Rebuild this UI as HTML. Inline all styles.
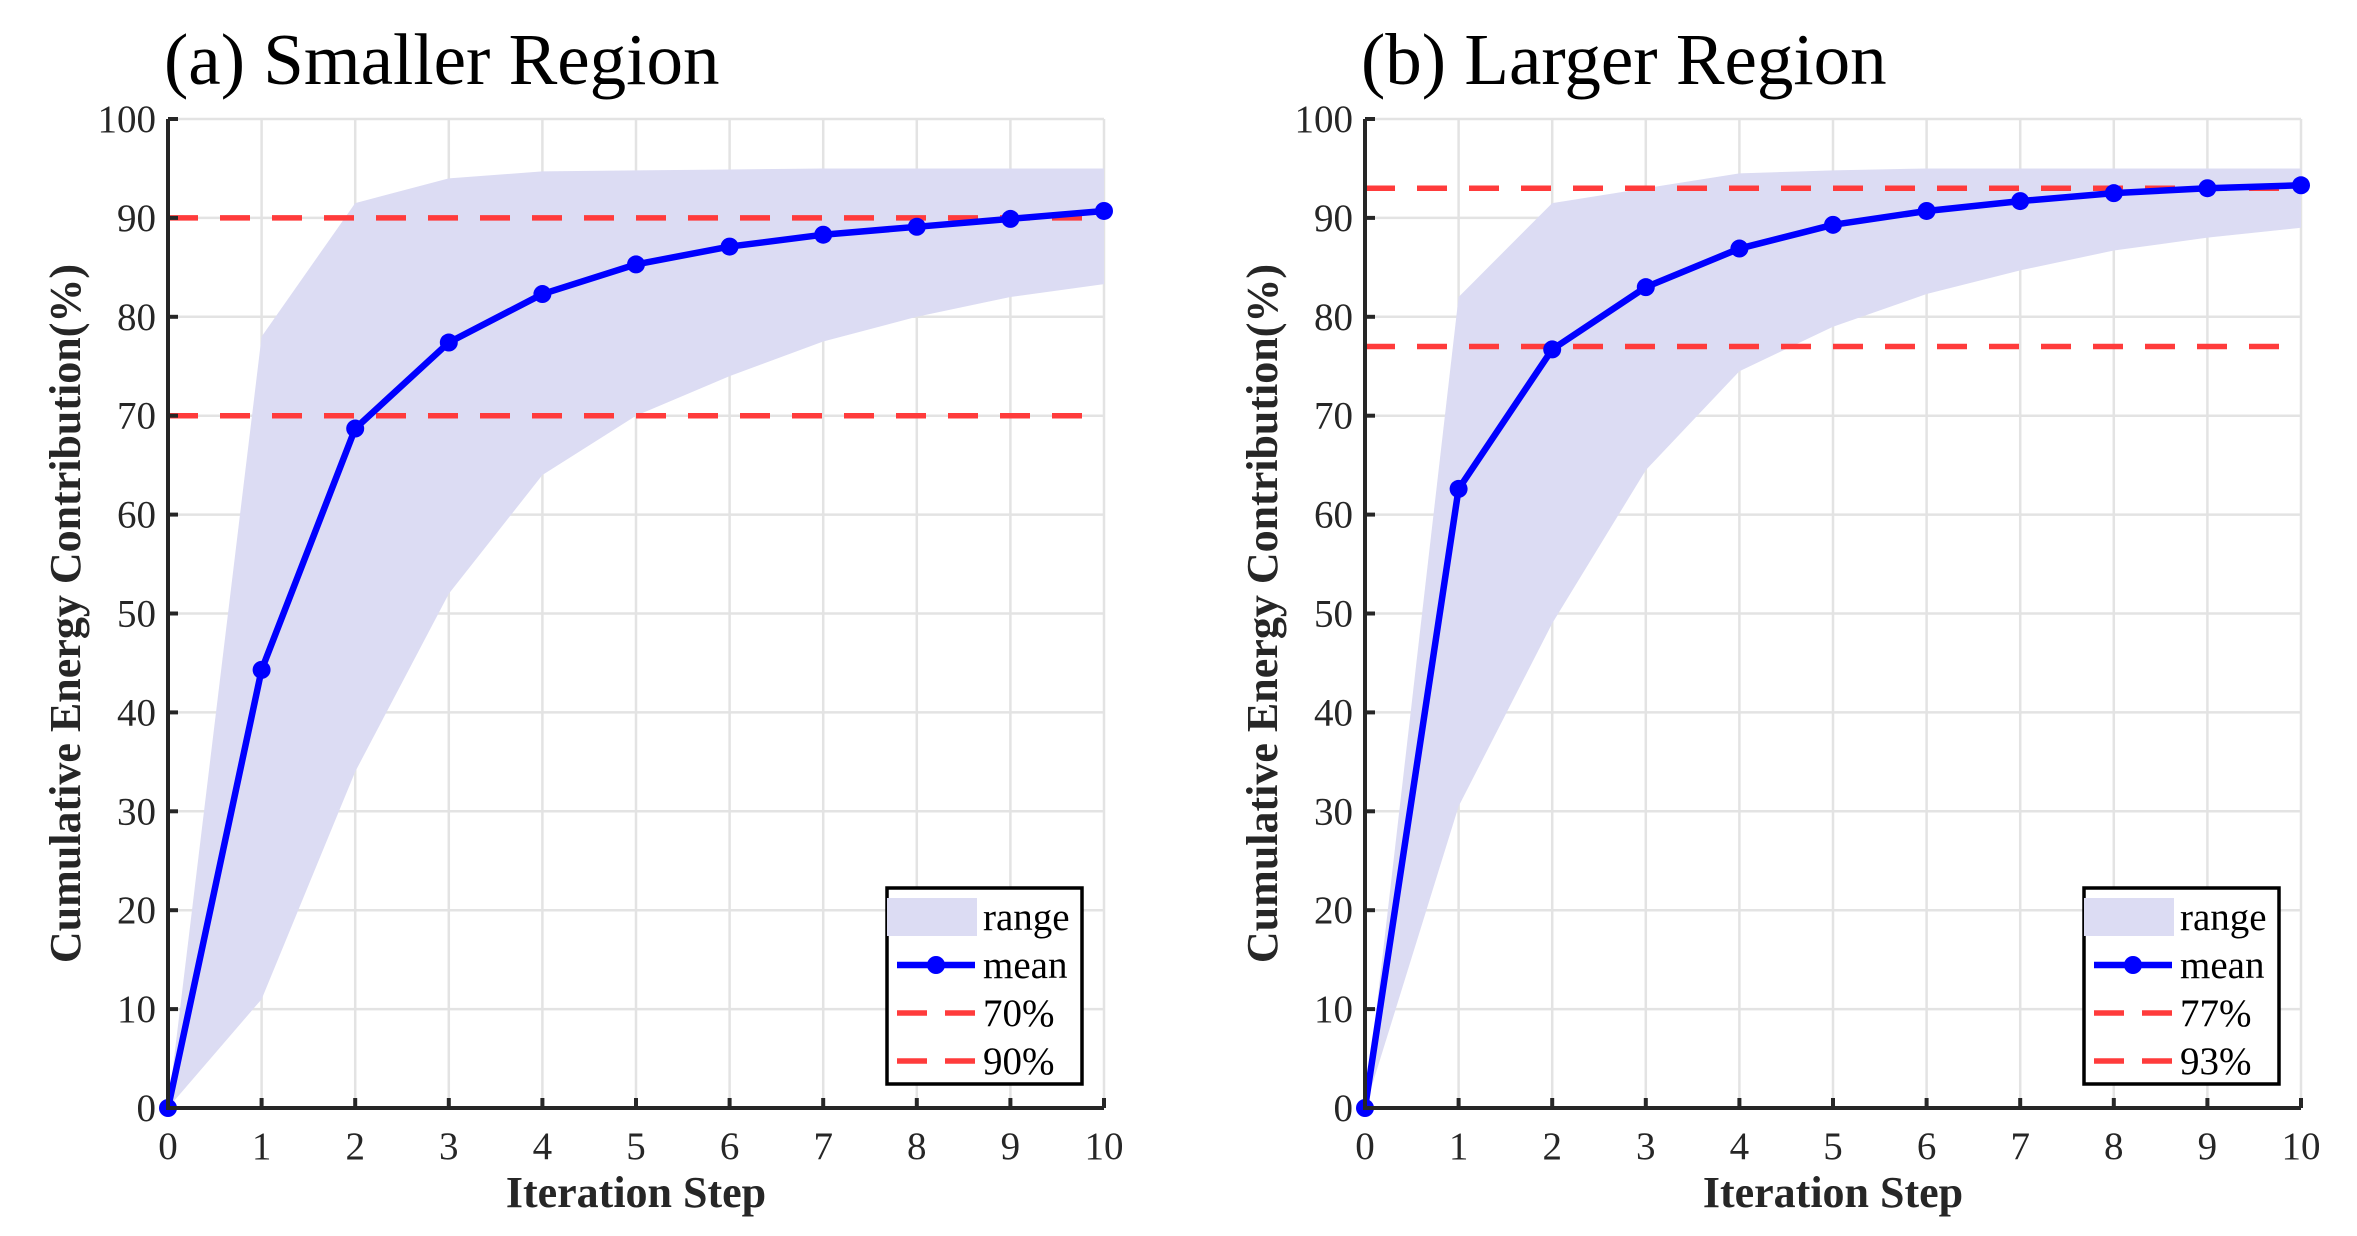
<!DOCTYPE html>
<html><head><meta charset="utf-8"><style>
html,body{margin:0;padding:0;background:#fff;}
svg{display:block;font-family:"Liberation Serif",serif;}
</style></head><body>
<svg id="chart" width="2357" height="1236" viewBox="0 0 2357 1236" xmlns="http://www.w3.org/2000/svg"></svg>
<script>
const steps = [0,1,2,3,4,5,6,7,8,9,10];
const yTicks = [0,10,20,30,40,50,60,70,80,90,100];
const meanA = [0,44.3,68.7,77.4,82.3,85.3,87.1,88.3,89.1,89.9,90.7];
const upperA = [0,78,91.5,94,94.7,94.8,94.9,95,95,95,95];
const lowerA = [0,11,34,52,64,70,74,77.5,80,82,83.3];
const threshA = [70,90];
const meanB = [0,62.6,76.7,83,86.9,89.3,90.7,91.7,92.5,93,93.3];
const upperB = [0,82,91.5,93,94.5,94.8,95,95,95,95,95];
const lowerB = [0,30.5,49,64.5,74.5,79,82.3,84.7,86.7,88,89];
const threshB = [77,93];
const titles = ["(a) Smaller Region","(b) Larger Region"];

const svg = document.getElementById('chart');
const NS = 'http://www.w3.org/2000/svg';
function mk(tag, attrs, parent, text){
  const e = document.createElementNS(NS, tag);
  for (const k in attrs) e.setAttribute(k, attrs[k]);
  if (text !== undefined) e.textContent = text;
  (parent||svg).appendChild(e);
  return e;
}
function panel(x0, title, mean, upper, lower, thr, key){
  const W = 936, yTop = 119, yBot = 1108;
  const X = v => x0 + v/10*W;
  const Y = v => yBot - v/100*(yBot-yTop);
  const g = mk('g', {});
  
  
  yTicks.forEach(t => { const l = mk('line',{x1:x0,x2:x0+W,y1:Y(t),y2:Y(t),stroke:'#e3e3e3','stroke-width':2.5},g);
      });
  steps.forEach(s => { const l = mk('line',{x1:X(s),x2:X(s),y1:yTop,y2:yBot,stroke:'#e3e3e3','stroke-width':2.5},g);
      });
  let d = steps.map((s,i)=>(i?'L':'M')+X(s)+','+Y(upper[i])).join(' ');
  for (let i=steps.length-1;i>=0;i--) d += ' L'+X(steps[i])+','+Y(lower[i]);
  const area = mk('path',{d:d+' Z',fill:'#dcdcf3'},g);
   
  thr.forEach(t => { const l = mk('line',{x1:x0,x2:x0+W,y1:Y(t),y2:Y(t),stroke:'#ff3b3b','stroke-width':5.5,'stroke-dasharray':'30 22'},g);
      });
  const pl = mk('polyline',{points:steps.map((s,i)=>X(s)+','+Y(mean[i])).join(' '),fill:'none',stroke:'#0000ff','stroke-width':6.5,'stroke-linejoin':'round'},g);
   
  steps.forEach((s,i)=>{ const c = mk('circle',{cx:X(s),cy:Y(mean[i]),r:9,fill:'#0000ff'},g);
      });
  const ax = mk('path',{d:`M${x0},${yTop} V${yBot} H${x0+W}`,fill:'none',stroke:'#262626','stroke-width':4},g);
   
  yTicks.forEach(t => {
    mk('line',{x1:x0,x2:x0+10,y1:Y(t),y2:Y(t),stroke:'#262626','stroke-width':4},g);
    const tx = mk('text',{x:x0-12,y:Y(t)+13,'text-anchor':'end','font-size':39,fill:'#262626'},g,String(t));
     
  });
  steps.forEach(s => {
    mk('line',{x1:X(s),x2:X(s),y1:yBot,y2:yBot-10,stroke:'#262626','stroke-width':4},g);
    const tx = mk('text',{x:X(s),y:1159,'text-anchor':'middle','font-size':39,fill:'#262626'},g,String(s));
     
  });
  const xl = mk('text',{x:x0+W/2,y:1207,'text-anchor':'middle','font-size':44,'font-weight':'bold',fill:'#262626'},g,'Iteration Step');
   
  const yl = mk('text',{x:0,y:0,'text-anchor':'middle','font-size':44,'font-weight':'bold',fill:'#262626',transform:`translate(${x0-88},${(yTop+yBot)/2}) rotate(-90)`},g,'Cumulative Energy Contribution(%)');
   
  const tt = mk('text',{x:x0-4,y:84,'font-size':73,fill:'#000'},g,title);
   
  const lx = x0+719, ly = 888;
  const lg = mk('g',{},g);
   
  mk('rect',{x:lx,y:ly,width:195,height:196,fill:'#fff',stroke:'#000','stroke-width':3.5},lg);
  mk('rect',{x:lx,y:ly+10,width:90,height:38,fill:'#dcdcf3'},lg);
  mk('line',{x1:lx+10,x2:lx+88,y1:ly+77,y2:ly+77,stroke:'#0000ff','stroke-width':6.5},lg);
  mk('circle',{cx:lx+49,cy:ly+77,r:9,fill:'#0000ff'},lg);
  mk('line',{x1:lx+10,x2:lx+88,y1:ly+125,y2:ly+125,stroke:'#ff3b3b','stroke-width':5.5,'stroke-dasharray':'30 18'},lg);
  mk('line',{x1:lx+10,x2:lx+88,y1:ly+173,y2:ly+173,stroke:'#ff3b3b','stroke-width':5.5,'stroke-dasharray':'30 18'},lg);
  const labels = ['range','mean',thr[0]+'%',thr[1]+'%'];
  labels.forEach((t,i)=>{ const e = mk('text',{x:lx+96,y:ly+42+i*48,'font-size':39,fill:'#000'},lg,t);
      });
}
panel(168, titles[0], meanA, upperA, lowerA, threshA, 'a');
panel(1365, titles[1], meanB, upperB, lowerB, threshB, 'b');
</script>
</body></html>
